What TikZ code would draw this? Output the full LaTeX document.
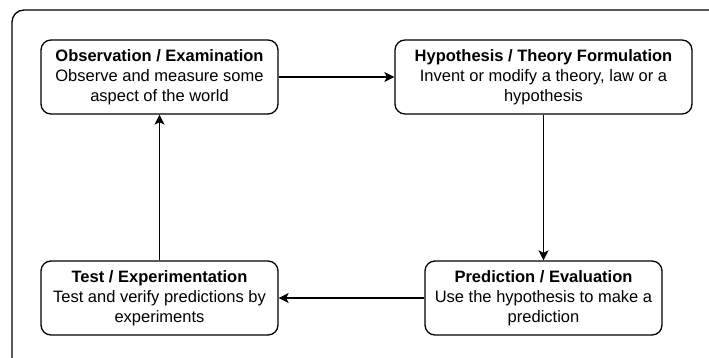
\documentclass[tikz,border=0pt]{standalone}
\usepackage{fontspec}
\setmainfont{Liberation Sans}
\usetikzlibrary{arrows.meta}
\begin{document}
\begin{tikzpicture}[x=1pt,y=-1pt,
  stepbox/.style={draw,line width=1.3pt,rounded corners=10pt,align=center,
    font=\fontsize{16.5}{20}\selectfont,inner sep=0pt},
  conn/.style={line width=1.3pt,-{Stealth[length=10pt,width=10pt,inset=2.5pt]}}]
\useasboundingbox (0,0) rectangle (709,358);
\clip (0,0) rectangle (709,358);
\draw[line width=1.3pt,rounded corners=12pt] (12,10) rectangle (730,380);
\node[stepbox,minimum width=237pt,minimum height=74pt] (obs) at (159.5,77)
  {\textbf{Observation / Examination}\\Observe and measure some\\aspect of the world};
\node[stepbox,minimum width=297pt,minimum height=74pt] (hyp) at (543.5,77)
  {\textbf{Hypothesis / Theory Formulation}\\Invent or modify a theory, law or a\\hypothesis};
\node[stepbox,minimum width=237pt,minimum height=74pt] (pred) at (543.5,298)
  {\textbf{Prediction / Evaluation}\\Use the hypothesis to make a\\prediction};
\node[stepbox,minimum width=237pt,minimum height=74pt] (test) at (159.5,298)
  {\textbf{Test / Experimentation}\\Test and verify predictions by\\experiments};
\draw[conn] (obs) -- (hyp);
\draw[conn] (hyp) -- (pred);
\draw[conn] (pred) -- (test);
\draw[conn] (test) -- (obs);
\end{tikzpicture}
\end{document}
